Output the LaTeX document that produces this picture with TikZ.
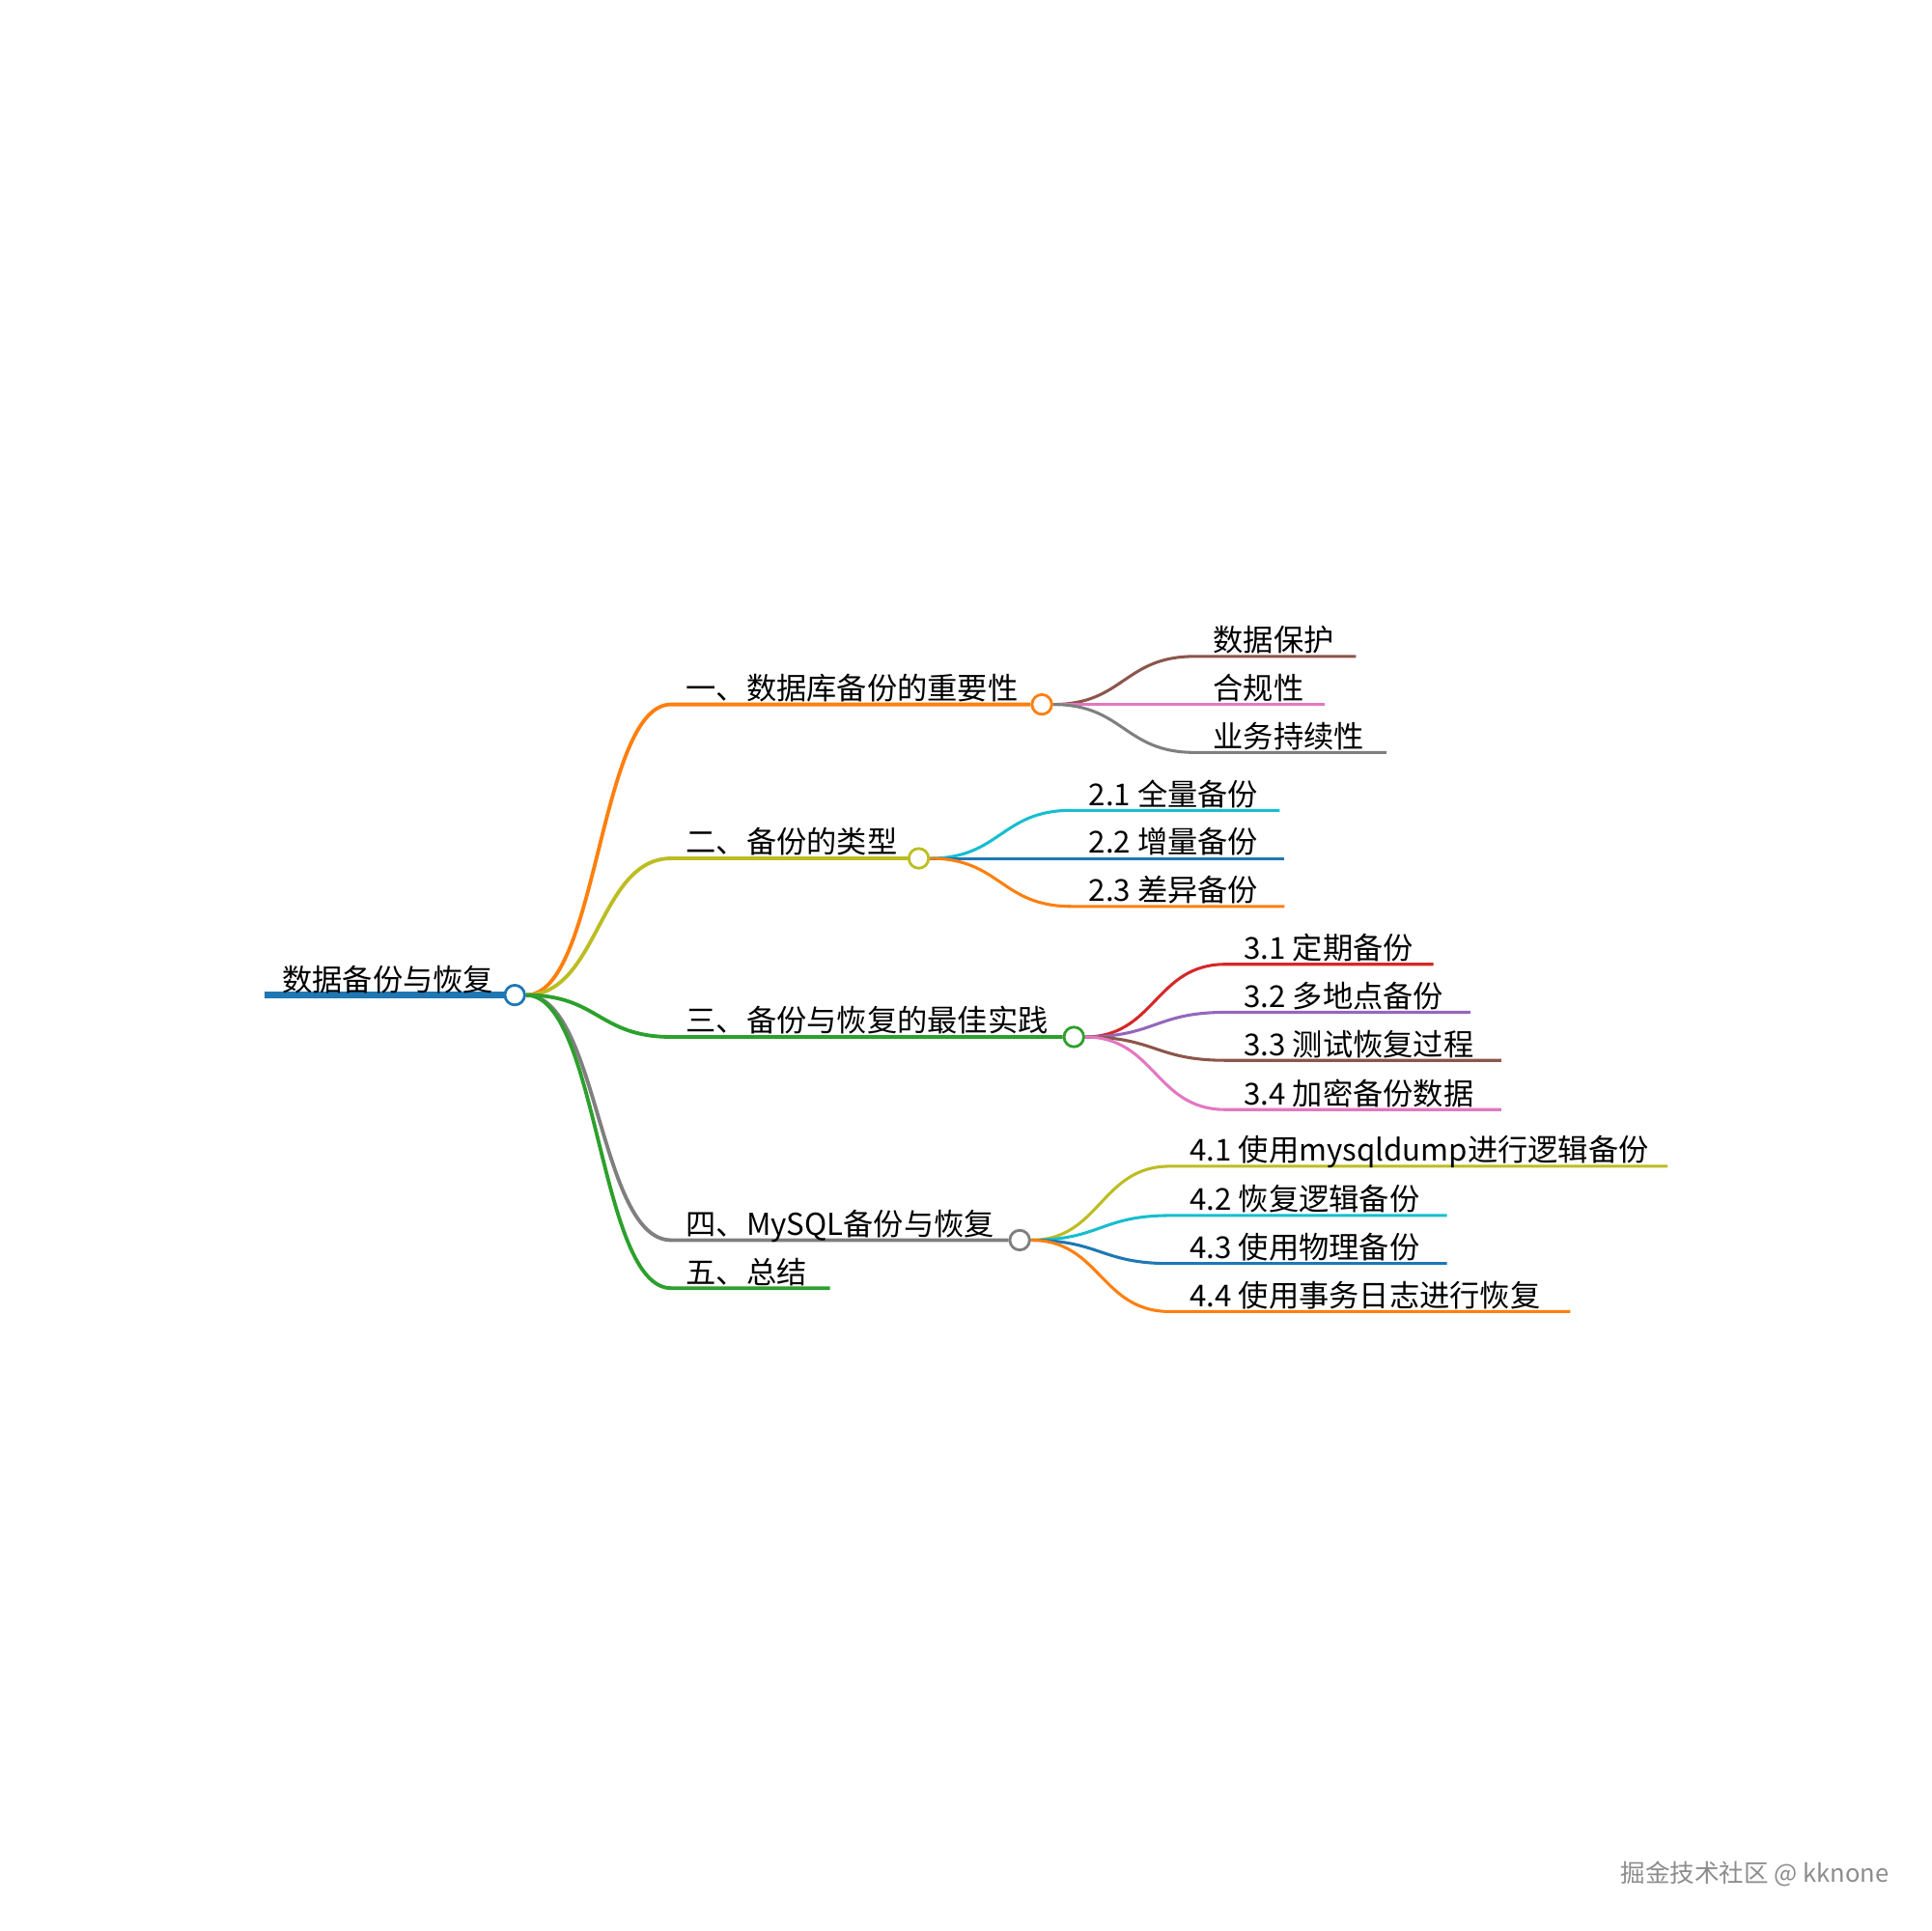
\documentclass[tikz,border=0pt]{standalone}
\usepackage{fontspec}
\setmainfont{Noto Sans CJK SC}
\usetikzlibrary{calc, positioning, backgrounds}

\definecolor{cBlue}{HTML}{1F77B4}
\definecolor{cOrange}{HTML}{FF7F0E}
\definecolor{cGreen}{HTML}{2CA02C}
\definecolor{cRed}{HTML}{D62728}
\definecolor{cPurple}{HTML}{9467BD}
\definecolor{cBrown}{HTML}{8C564B}
\definecolor{cPink}{HTML}{E377C2}
\definecolor{cGray}{HTML}{7F7F7F}
\definecolor{cOlive}{HTML}{BCBD22}
\definecolor{cCyan}{HTML}{17BECF}

\begin{document}
\begin{tikzpicture}[
        x=1pt, y=-1pt,
        dot/.style={circle, draw=#1, fill=white, line width=2.2pt, minimum size=16pt, inner sep=0pt},
        txt/.style={anchor=base west, inner sep=0pt, font=\fontsize{24.5}{29}\selectfont},
        trunk/.style={line width=5pt, cBlue},
        lvl1/.style={line width=3pt},
        lvl2/.style={line width=2.4pt},
        curvy/.style={to path={let \p1=(\tikztostart), \p2=(\tikztotarget) in
            .. controls ({(\x1+\x2)/2},\y1) and ({(\x1+\x2)/2},\y2) .. (\tikztotarget)}}
    ]
        \useasboundingbox (0,0) rectangle (1568,1568);

        % Root
        \coordinate (root-s) at (215,808);
        \node[dot=cBlue] (root) at (418,808) {};
        \node[txt] (root-t) at (229,805) {数据备份与恢复};

        % Main branches
        \coordinate (imp-s) at (545,572);
        \coordinate (types-s) at (545,697);
        \coordinate (best-s) at (545,842);
        \coordinate (mysql-s) at (545,1007);
        \coordinate (sum-s) at (545,1046);
        \coordinate (sum-e) at (674,1046);
        \node[dot=cOrange] (imp) at (846,572) {};
        \node[dot=cOlive] (types) at (746,697) {};
        \node[dot=cGreen] (best) at (872,842) {};
        \node[dot=cGray] (mysql) at (828,1007) {};
        \node[right=12pt of imp-s, txt, yshift=4pt] (imp-t) {一、数据库备份的重要性};
        \node[right=12pt of types-s, txt, yshift=4pt] (types-t) {二、备份的类型};
        \node[right=12pt of best-s, txt, yshift=4pt] (best-t) {三、备份与恢复的最佳实践};
        \node[right=12pt of mysql-s, txt, yshift=4pt] (mysql-t) {四、MySQL备份与恢复};
        \node[right=12pt of sum-s, txt, yshift=4pt] (sum-t) {五、总结};

        % Leaves of imp
        \coordinate (imp1-s) at (970,533);  \coordinate (imp1-e) at (1101,533);
        \coordinate (imp2-s) at (970,572);  \coordinate (imp2-e) at (1076,572);
        \coordinate (imp3-s) at (970,611);  \coordinate (imp3-e) at (1126,611);
        \node[right=15pt of imp1-s, txt, yshift=4pt] (imp1) {数据保护};
        \node[right=15pt of imp2-s, txt, yshift=4pt] (imp2) {合规性};
        \node[right=15pt of imp3-s, txt, yshift=4pt] (imp3) {业务持续性};

        % Leaves of types
        \coordinate (type1-s) at (870,658);  \coordinate (type1-e) at (1039,658);
        \coordinate (type2-s) at (870,697);  \coordinate (type2-e) at (1043,697);
        \coordinate (type3-s) at (870,736);  \coordinate (type3-e) at (1043,736);
        \node[right=14pt of type1-s, txt, yshift=4pt] (type1) {2.1 全量备份};
        \node[right=14pt of type2-s, txt, yshift=4pt] (type2) {2.2 增量备份};
        \node[right=14pt of type3-s, txt, yshift=4pt] (type3) {2.3 差异备份};

        % Leaves of best
        \coordinate (best1-s) at (995,783);  \coordinate (best1-e) at (1164,783);
        \coordinate (best2-s) at (995,822);  \coordinate (best2-e) at (1194,822);
        \coordinate (best3-s) at (995,861);  \coordinate (best3-e) at (1219,861);
        \coordinate (best4-s) at (995,901);  \coordinate (best4-e) at (1219,901);
        \node[right=15pt of best1-s, txt, yshift=4pt] (best1) {3.1 定期备份};
        \node[right=15pt of best2-s, txt, yshift=4pt] (best2) {3.2 多地点备份};
        \node[right=15pt of best3-s, txt, yshift=4pt] (best3) {3.3 测试恢复过程};
        \node[right=15pt of best4-s, txt, yshift=4pt] (best4) {3.4 加密备份数据};

        % Leaves of mysql
        \coordinate (my1-s) at (950,947);   \coordinate (my1-e) at (1354,947);
        \coordinate (my2-s) at (950,987);   \coordinate (my2-e) at (1175,987);
        \coordinate (my3-s) at (950,1026);  \coordinate (my3-e) at (1175,1026);
        \coordinate (my4-s) at (950,1065);  \coordinate (my4-e) at (1275,1065);
        \node[right=16pt of my1-s, txt, yshift=4pt] (my1) {4.1 使用mysqldump进行逻辑备份};
        \node[right=16pt of my2-s, txt, yshift=4pt] (my2) {4.2 恢复逻辑备份};
        \node[right=16pt of my3-s, txt, yshift=4pt] (my3) {4.3 使用物理备份};
        \node[right=16pt of my4-s, txt, yshift=4pt] (my4) {4.4 使用事务日志进行恢复};

        % Watermark
        \node[anchor=base west, inner sep=0pt, font=\fontsize{20}{24}\selectfont, text=cGray!90] (mark) at (1316,1528) {掘金技术社区 @ kknone};

        % Edges
        \begin{pgfonlayer}{background}
        \draw[trunk] (root-s) -- (root.west);

        \draw[lvl1, cOrange] (root.east) to[curvy] (imp-s) -- (imp.west);
        \draw[lvl1, cOlive] (root.east) to[curvy] (types-s) -- (types.west);
        \draw[lvl1, cGreen] (root.east) to[curvy] (best-s) -- (best.west);
        \draw[lvl1, cGray] (root.east) to[curvy] (mysql-s) -- (mysql.west);
        \draw[lvl1, cGreen] (root.east) to[curvy] (sum-s) -- (sum-e);

        \draw[lvl2, cBrown] (imp.east) to[curvy] (imp1-s) -- (imp1-e);
        \draw[lvl2, cPink] (imp.east) to[curvy] (imp2-s) -- (imp2-e);
        \draw[lvl2, cGray] (imp.east) to[curvy] (imp3-s) -- (imp3-e);

        \draw[lvl2, cCyan] (types.east) to[curvy] (type1-s) -- (type1-e);
        \draw[lvl2, cBlue] (types.east) to[curvy] (type2-s) -- (type2-e);
        \draw[lvl2, cOrange] (types.east) to[curvy] (type3-s) -- (type3-e);

        \draw[lvl2, cRed] (best.east) to[curvy] (best1-s) -- (best1-e);
        \draw[lvl2, cPurple] (best.east) to[curvy] (best2-s) -- (best2-e);
        \draw[lvl2, cBrown] (best.east) to[curvy] (best3-s) -- (best3-e);
        \draw[lvl2, cPink] (best.east) to[curvy] (best4-s) -- (best4-e);

        \draw[lvl2, cOlive] (mysql.east) to[curvy] (my1-s) -- (my1-e);
        \draw[lvl2, cCyan] (mysql.east) to[curvy] (my2-s) -- (my2-e);
        \draw[lvl2, cBlue] (mysql.east) to[curvy] (my3-s) -- (my3-e);
        \draw[lvl2, cOrange] (mysql.east) to[curvy] (my4-s) -- (my4-e);
        \end{pgfonlayer}
    \end{tikzpicture}
\end{document}
